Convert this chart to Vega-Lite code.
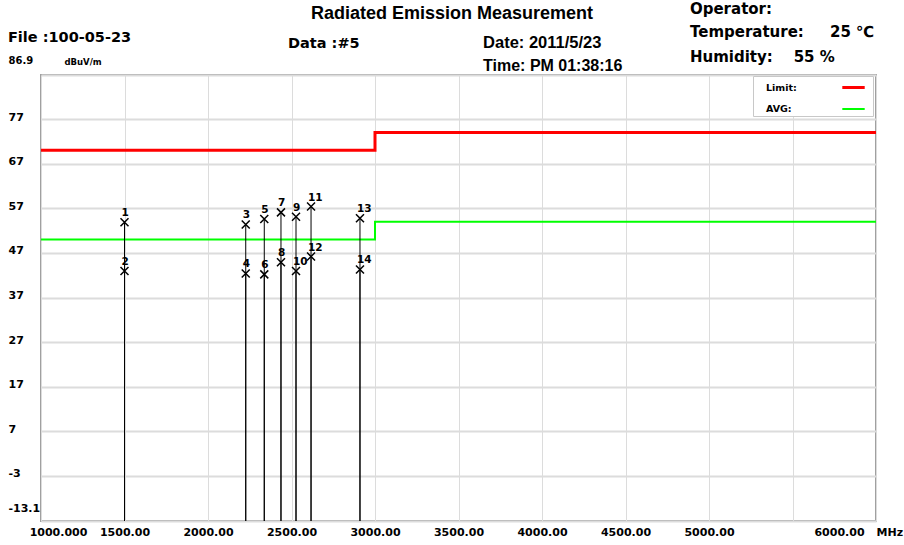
{
  "$schema": "https://vega.github.io/schema/vega-lite/v6.json",
  "width": 835,
  "height": 446,
  "autosize": {"type": "none"},
  "padding": {"left": 41, "top": 75, "right": 28, "bottom": 24},
  "background": "white",
  "config": {
    "view": {"stroke": "#a0a0a0", "strokeWidth": 2},
    "axis": {"domain": false, "ticks": false, "tickSize": 0, "gridColor": "#dcdcdc", "labelFont": "DejaVu Sans", "labelFontWeight": "bold", "labelFontSize": 11, "labelColor": "black", "titleColor": "black", "labelOverlap": false, "labelBound": false, "labelFlush": false},
    "text": {"font": "DejaVu Sans", "fontSize": 14.5, "fontWeight": "bold", "color": "black", "align": "left", "baseline": "middle"}
  },
  "datasets": {
    "markers": [
      {"no": "1", "freq": 1500, "level": 53.9},
      {"no": "2", "freq": 1500, "level": 42.95},
      {"no": "3", "freq": 2226, "level": 53.4},
      {"no": "4", "freq": 2226, "level": 42.4},
      {"no": "5", "freq": 2337, "level": 54.6},
      {"no": "6", "freq": 2337, "level": 42.2},
      {"no": "7", "freq": 2437, "level": 56.1},
      {"no": "8", "freq": 2437, "level": 44.9},
      {"no": "9", "freq": 2527, "level": 55.1},
      {"no": "10", "freq": 2527, "level": 42.95},
      {"no": "11", "freq": 2617, "level": 57.4},
      {"no": "12", "freq": 2617, "level": 46.2},
      {"no": "13", "freq": 2910, "level": 54.8},
      {"no": "14", "freq": 2910, "level": 43.3}
    ],
    "limits": [
      {"series": "Limit:", "freq": 1000, "level": 70},
      {"series": "Limit:", "freq": 3000, "level": 74},
      {"series": "Limit:", "freq": 6000, "level": 74},
      {"series": "AVG:", "freq": 1000, "level": 50},
      {"series": "AVG:", "freq": 3000, "level": 54},
      {"series": "AVG:", "freq": 6000, "level": 54}
    ]
  },
  "layer": [
    {
      "data": {"name": "limits"},
      "mark": {"type": "line", "interpolate": "step-after", "clip": true},
      "encoding": {
        "x": {"field": "freq", "type": "quantitative", "scale": {"domain": [1000, 6000], "nice": false, "zero": false},
          "axis": {"values": [1000, 1500, 2000, 2500, 3000, 3500, 4000, 4500, 5000, 5500, 6000], "gridWidth": 1,
            "labelExpr": "datum.value == 5500 ? '' : datum.value == 1000 ? '1000.000' : format(datum.value, '.2f')",
            "labelPadding": 5, "labelBaseline": "top",
            "labelOffset": {"condition": [{"test": "datum.value == 1000", "value": 17}, {"test": "datum.value == 6000", "value": -37}], "value": 0},
            "title": "MHz", "titleX": 835, "titleY": 11, "titleAlign": "left", "titleBaseline": "middle", "titleAngle": 0, "titleFont": "DejaVu Sans", "titleFontSize": 11, "titleFontWeight": "bold"}},
        "y": {"field": "level", "type": "quantitative", "scale": {"domain": [-13.1, 86.9], "nice": false, "zero": false},
          "axis": {"values": [-13.1, -3, 7, 17, 27, 37, 47, 57, 67, 77, 86.9], "gridWidth": 2,
            "labelExpr": "'' + datum.value",
            "labelAlign": "left", "labelPadding": 33, "labelBaseline": "middle",
            "labelOffset": {"condition": [{"test": "datum.value > 80", "value": -15}, {"test": "datum.value < -10", "value": -13}], "value": -2},
            "labelFontSize": {"condition": {"test": "datum.value > 80", "value": 10}, "value": 11},
            "title": "dBuV/m", "titleX": 23, "titleY": -14, "titleAlign": "left", "titleBaseline": "middle", "titleAngle": 0, "titleFont": "DejaVu Sans", "titleFontSize": 8.5, "titleFontWeight": "bold"}},
        "color": {"field": "series", "type": "nominal", "scale": {"domain": ["Limit:", "AVG:"], "range": ["#ff0000", "#00ff00"]},
          "legend": {"title": null, "orient": "none", "legendX": 712, "legendY": 1, "fillColor": "white", "strokeColor": "#c8c8c8", "padding": 2,
            "symbolType": "M-1.4,0H1.4", "symbolSize": 256, "symbolStrokeWidth": 2, "symbolOffset": 89, "labelOffset": -97,
            "labelFont": "DejaVu Sans", "labelFontSize": 9.5, "labelFontWeight": "bold", "labelColor": "black", "rowPadding": 6}},
        "strokeWidth": {"field": "series", "type": "nominal", "scale": {"domain": ["Limit:", "AVG:"], "range": [3, 2]}, "legend": null}
      }
    },
    {
      "data": {"name": "markers"},
      "mark": {"type": "rule", "color": "black", "strokeWidth": 1},
      "encoding": {"x": {"field": "freq", "type": "quantitative"}, "y": {"field": "level", "type": "quantitative"}, "y2": {"datum": -13.1}}
    },
    {
      "data": {"name": "markers"},
      "mark": {"type": "point", "shape": "M-1,-1L1,1M-1,1L1,-1", "filled": false, "stroke": "black", "strokeWidth": 1.5, "size": 64, "opacity": 1},
      "encoding": {"x": {"field": "freq", "type": "quantitative"}, "y": {"field": "level", "type": "quantitative"}}
    },
    {
      "data": {"name": "markers"},
      "mark": {"type": "text", "align": "left", "baseline": "alphabetic", "dx": -3, "dy": -6, "font": "DejaVu Sans", "fontSize": 10.5, "fontWeight": "bold", "color": "black"},
      "encoding": {"x": {"field": "freq", "type": "quantitative"}, "y": {"field": "level", "type": "quantitative"}, "text": {"field": "no"}}
    },
    {"data": {"values": [{"label": "Radiated Emission Measurement"}]},
      "mark": {"type": "text", "align": "center", "font": "Liberation Sans", "fontSize": 18},
      "encoding": {"x": {"datum": 3461}, "y": {"datum": 100.58}, "text": {"field": "label"}}},
    {"data": {"values": [{"label": "File :100-05-23"}]},
      "mark": {"type": "text"},
      "encoding": {"x": {"datum": 802}, "y": {"datum": 95.2}, "text": {"field": "label"}}},
    {"data": {"values": [{"label": "Data :#5"}]},
      "mark": {"type": "text"},
      "encoding": {"x": {"datum": 2479}, "y": {"datum": 93.85}, "text": {"field": "label"}}},
    {"data": {"values": [{"label": "Date: 2011/5/23"}]},
      "mark": {"type": "text", "font": "Liberation Sans", "fontSize": 16.5},
      "encoding": {"x": {"datum": 3647}, "y": {"datum": 94.07}, "text": {"field": "label"}}},
    {"data": {"values": [{"label": "Time: PM 01:38:16"}]},
      "mark": {"type": "text", "font": "Liberation Sans", "fontSize": 16},
      "encoding": {"x": {"datum": 3647}, "y": {"datum": 88.92}, "text": {"field": "label"}}},
    {"data": {"values": [{"label": "Operator:"}]},
      "mark": {"type": "text", "fontSize": 15},
      "encoding": {"x": {"datum": 4886}, "y": {"datum": 101.7}, "text": {"field": "label"}}},
    {"data": {"values": [{"label": "Temperature:\u00a0\u00a0\u00a0\u00a0\u00a025 ℃"}]},
      "mark": {"type": "text", "fontSize": 15},
      "encoding": {"x": {"datum": 4886}, "y": {"datum": 96.54}, "text": {"field": "label"}}},
    {"data": {"values": [{"label": "Humidity:\u00a0\u00a0\u00a0\u00a055 %"}]},
      "mark": {"type": "text", "fontSize": 15},
      "encoding": {"x": {"datum": 4886}, "y": {"datum": 90.94}, "text": {"field": "label"}}}
  ]
}
